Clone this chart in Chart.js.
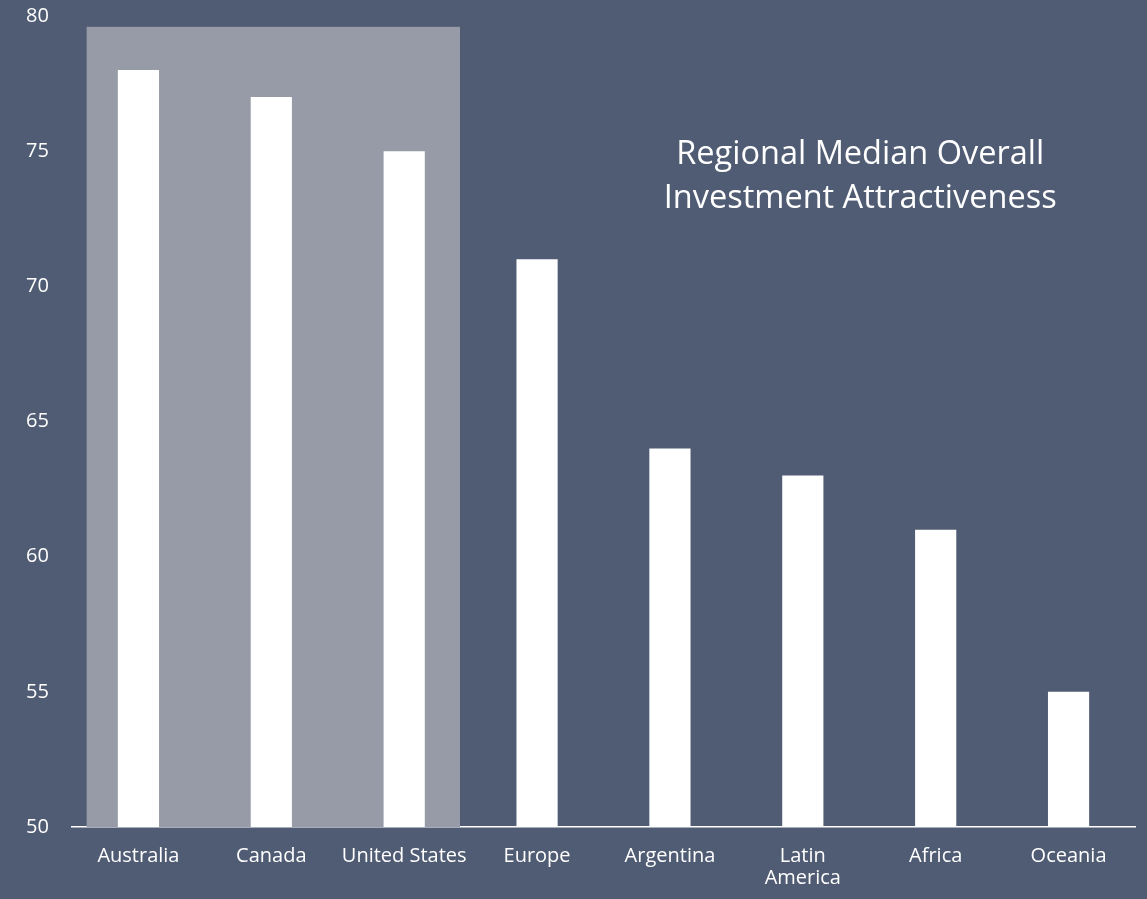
<!DOCTYPE html>
<html>
<head>
<meta charset="utf-8">
<script src="https://cdn.jsdelivr.net/npm/chart.js@4/dist/chart.umd.min.js"></script>
<style>
  html, body { margin: 0; padding: 0; background: #505c73; }
  #wrap { width: 1147px; height: 899px; }
</style>
</head>
<body>
<div id="wrap"><canvas id="chart" width="1147" height="899"></canvas></div>
<script>
// Regions and their median overall investment attractiveness scores
const categories = ['Australia', 'Canada', 'United States', 'Europe', 'Argentina', ['Latin', 'America'], 'Africa', 'Oceania'];
const medianScores = [78, 77, 75, 71, 64, 63, 61, 55];
const yMin = 50;
const yMax = 80;
const yStep = 5;
// Regions grouped under the shaded panel
const highlightedRegions = ['Australia', 'Canada', 'United States'];
const highlightTop = 79.6;
const titleLines = ['Regional Median Overall', 'Investment Attractiveness'];

const BG = '#505c73';
const PANEL = '#969ba7';
const FONT = '"Open Sans", Lato, sans-serif';

const backgroundPlugin = {
  id: 'background',
  beforeDraw(chart) {
    const { ctx, width, height } = chart;
    ctx.save();
    ctx.fillStyle = BG;
    ctx.fillRect(0, 0, width, height);
    ctx.restore();
  }
};

// Shaded panel behind the highlighted group of bars
const panelPlugin = {
  id: 'panel',
  beforeDatasetsDraw(chart) {
    const { ctx, chartArea } = chart;
    const x = chart.scales.x, y = chart.scales.y;
    const first = categories.indexOf(highlightedRegions[0]);
    const last = categories.indexOf(highlightedRegions[highlightedRegions.length - 1]);
    const step = x.getPixelForValue(1) - x.getPixelForValue(0);
    const left = x.getPixelForValue(first) - 0.39 * step;
    const right = x.getPixelForValue(last) + 0.42 * step;
    const top = y.getPixelForValue(highlightTop);
    ctx.save();
    ctx.fillStyle = PANEL;
    ctx.fillRect(left, top, right - left, chartArea.bottom - top);
    ctx.restore();
  }
};

// Chart heading set inside the plot area
const headingPlugin = {
  id: 'heading',
  afterDatasetsDraw(chart) {
    const { ctx, chartArea } = chart;
    const cx = chartArea.left + (chartArea.right - chartArea.left) * 0.7415;
    ctx.save();
    ctx.fillStyle = '#ffffff';
    ctx.font = '32.5px ' + FONT;
    ctx.textAlign = 'center';
    ctx.textBaseline = 'alphabetic';
    titleLines.forEach((line, i) => {
      ctx.fillText(line, cx, 164 + i * 43.5);
    });
    ctx.restore();
  }
};

new Chart(document.getElementById('chart'), {
  type: 'bar',
  data: {
    labels: categories,
    datasets: [{
      data: medianScores,
      backgroundColor: '#ffffff',
      borderWidth: 0,
      barPercentage: 0.31,
      categoryPercentage: 1
    }]
  },
  options: {
    responsive: false,
    animation: false,
    layout: { padding: { top: 16, right: 12, left: 26, bottom: 0 } },
    plugins: {
      legend: { display: false },
      tooltip: { enabled: false }
    },
    scales: {
      x: {
        grid: { display: false, drawTicks: false },
        border: { display: true, color: '#ffffff', width: 1.5 },
        ticks: {
          color: '#ffffff',
          font: { family: FONT, size: 20, lineHeight: 1.1 },
          padding: 18,
          maxRotation: 0,
          autoSkip: false
        },
        afterFit(scale) { scale.height = 72; }
      },
      y: {
        min: yMin,
        max: yMax,
        grid: { display: false, drawTicks: false },
        border: { display: false },
        ticks: {
          stepSize: yStep,
          color: '#ffffff',
          font: { family: FONT, size: 20 },
          padding: 0,
          crossAlign: 'far'
        },
        afterFit(scale) { scale.width = 46; }
      }
    }
  },
  plugins: [backgroundPlugin, panelPlugin, headingPlugin]
});
</script>
</body>
</html>
